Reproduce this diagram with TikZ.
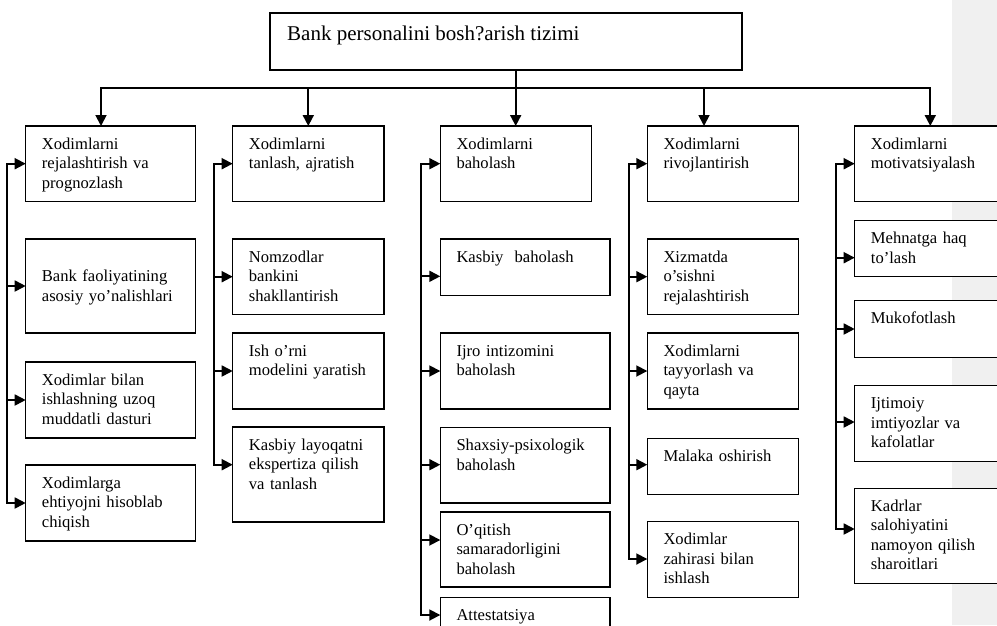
\documentclass[tikz,border=0pt]{standalone}
\usepackage{fontspec}
\setmainfont{Liberation Serif}
\usetikzlibrary{arrows.meta,fit}
\definecolor{marginbg}{HTML}{F0F0F0}
\newcommand\mybox[6]{%
  \node[box, fit={(#2,#3) (#4,#5)}] (#1) {};
  \node[txt] (#1t) at ([shift={(16,23)}]#1.north west) {#6};}
\newcommand\myarrow[4]{%
  \coordinate (#1) at (#2,#3);
  \draw[arr] (#1) -- (#1 -| #4.west);}
\begin{document}
\begin{tikzpicture}[x=1pt,y=-1pt,
  box/.style={draw=black, fill=white, line width=1.3pt, inner sep=0pt, outer sep=0pt},
  txt/.style={font=\fontsize{16.6}{19.5}\selectfont, text width=220pt, align=left, inner sep=0pt, anchor=base west},
  conn/.style={line width=1.8pt, line cap=rect},
  arr/.style={line width=1.8pt, -{Triangle[length=11pt,width=11pt]}},
]
\clip (0,0) rectangle (997,625);
\fill[white] (0,0) rectangle (997,625);
\fill[marginbg] (952.3,0) rectangle (997,625);

% top box
\node[box, fit={(270,13) (742,70)}] (top) {};
\node[anchor=base west, inner sep=0pt, font=\fontsize{21}{25}\selectfont] (toptxt)
  at ([shift={(17,27)}]top.north west) {Bank personalini bosh?arish tizimi};

% column 1
\mybox{c1b1}{25.7}{126}{195.7}{201.7}{Xodimlarni\\rejalashtirish va\\prognozlash}
\mybox{c1b2}{25.7}{239}{195.7}{333}{\mbox{}\\Bank faoliyatining\\asosiy yo’nalishlari}
\mybox{c1b3}{25.7}{362}{195.7}{438}{Xodimlar bilan\\ishlashning uzoq\\muddatli dasturi}
\mybox{c1b4}{25.7}{465}{195.7}{541}{Xodimlarga\\ehtiyojni hisoblab\\chiqish}

% column 2
\mybox{c2b1}{232.7}{126}{384}{201.7}{Xodimlarni\\tanlash, ajratish}
\mybox{c2b2}{232.7}{239}{384}{314.7}{Nomzodlar\\bankini\\shakllantirish}
\mybox{c2b3}{232.7}{333}{384}{409}{Ish o’rni\\modelini yaratish}
\mybox{c2b4}{232.7}{427}{384}{522}{Kasbiy layoqatni\\ekspertiza qilish\\va tanlash}

% column 3
\mybox{c3b1}{440.3}{126}{591.3}{201.7}{Xodimlarni\\baholash}
\mybox{c3b2}{440.3}{239}{610}{295.7}{Kasbiy\ \ baholash}
\mybox{c3b3}{440.3}{333}{610}{409}{Ijro intizomini\\baholash}
\mybox{c3b4}{440.3}{427.7}{610}{503}{Shaxsiy-psixologik\\baholash}
\mybox{c3b5}{440.3}{512}{610}{587}{O’qitish\\samaradorligini\\baholash}
\mybox{c3b6}{440.3}{597.3}{610}{645}{Attestatsiya}

% column 4
\mybox{c4b1}{647.3}{126}{798.7}{201.7}{Xodimlarni\\rivojlantirish}
\mybox{c4b2}{647.3}{239}{798.7}{314.7}{Xizmatda\\o’sishni\\rejalashtirish}
\mybox{c4b3}{647.3}{333}{798.7}{409}{Xodimlarni\\tayyorlash va\\qayta}
\mybox{c4b4}{647.3}{438.3}{798.7}{494.7}{Malaka oshirish}
\mybox{c4b5}{647.3}{521.7}{798.7}{597.3}{Xodimlar\\zahirasi bilan\\ishlash}

% column 5
\mybox{c5b1}{854.7}{126}{1012}{201.7}{Xodimlarni\\motivatsiyalash}
\mybox{c5b2}{854.7}{220.7}{1012}{276.7}{Mehnatga haq\\to’lash}
\mybox{c5b3}{854.7}{300.7}{1012}{357.3}{Mukofotlash}
\mybox{c5b4}{854.7}{385.7}{1012}{461.3}{Ijtimoiy\\imtiyozlar va\\kafolatlar}
\mybox{c5b5}{854.7}{488.3}{1012}{583.3}{Kadrlar\\salohiyatini\\namoyon qilish\\sharoitlari}

% top distribution
\coordinate (h1) at (101,88.3);
\coordinate (h2) at (308.3,88.3);
\coordinate (h3) at (515.7,88.3);
\coordinate (h4) at (704,88.3);
\coordinate (h5) at (930.3,88.3);
\draw[conn] (h1) -- (h5);
\draw[arr] (top.south -| h3) -- (h3 |- c3b1.north);
\draw[arr] (h1) -- (h1 |- c1b1.north);
\draw[arr] (h2) -- (h2 |- c2b1.north);
\draw[arr] (h4) -- (h4 |- c4b1.north);
\draw[arr] (h5) -- (h5 |- c5b1.north);

% column 1 connectors
\myarrow{c1a1}{7}{163.7}{c1b1}
\myarrow{c1a2}{7}{286}{c1b2}
\myarrow{c1a3}{7}{400}{c1b3}
\myarrow{c1a4}{7}{503}{c1b4}
\draw[conn] (c1a1) -- (c1a4);

% column 2 connectors
\myarrow{c2a1}{213.7}{163.7}{c2b1}
\myarrow{c2a2}{213.7}{276.7}{c2b2}
\myarrow{c2a3}{213.7}{371}{c2b3}
\myarrow{c2a4}{213.7}{464.7}{c2b4}
\draw[conn] (c2a1) -- (c2a4);

% column 3 connectors
\myarrow{c3a1}{421.3}{163.7}{c3b1}
\myarrow{c3a2}{421.3}{276.3}{c3b2}
\myarrow{c3a3}{421.3}{371}{c3b3}
\myarrow{c3a4}{421.3}{464.7}{c3b4}
\myarrow{c3a5}{421.3}{540}{c3b5}
\myarrow{c3a6}{421.3}{615}{c3b6}
\draw[conn] (c3a1) -- (c3a6);

% column 4 connectors
\myarrow{c4a1}{628.7}{163.7}{c4b1}
\myarrow{c4a2}{628.7}{276.7}{c4b2}
\myarrow{c4a3}{628.7}{371}{c4b3}
\myarrow{c4a4}{628.7}{464.7}{c4b4}
\myarrow{c4a5}{628.7}{559}{c4b5}
\draw[conn] (c4a1) -- (c4a5);

% column 5 connectors
\myarrow{c5a1}{836}{163.7}{c5b1}
\myarrow{c5a2}{836}{257.7}{c5b2}
\myarrow{c5a3}{836}{329}{c5b3}
\myarrow{c5a4}{836}{422}{c5b4}
\myarrow{c5a5}{836}{529}{c5b5}
\draw[conn] (c5a1) -- (c5a5);
\end{tikzpicture}
\end{document}
